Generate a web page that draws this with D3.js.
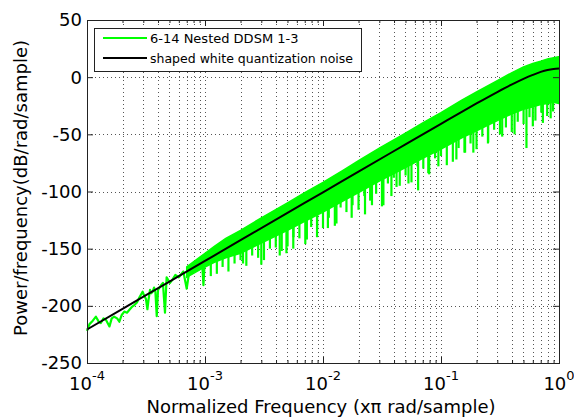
<!DOCTYPE html>
<html>
<head>
<meta charset="utf-8">
<script src="https://cdn.jsdelivr.net/npm/d3@7"></script>
<style>
  body { margin: 0; background: #fff; }
  svg { display: block; }
</style>
</head>
<body>
<div id="chart"></div>
<script>
// tick labels / legend
const decades = [1e-4, 1e-3, 1e-2, 1e-1, 1];
const decadeExp = ['-4', '-3', '-2', '-1', '0'];
const yTicks = [-250, -200, -150, -100, -50, 0, 50];
const legendLabels = ['6-14 Nested DDSM 1-3', 'shaped white quantization noise'];

// black curve: shaped white quantization noise
const shapedF = [1e-4, 2e-4, 5e-4, 1e-3, 2e-3, 5e-3, 1e-2, 2e-2, 5e-2, 0.1, 0.15, 0.2, 0.3, 0.4, 0.5, 0.6, 0.7, 0.8, 0.9, 1];
const shapedDb = [-220.7, -202.6, -178.8, -160.7, -142.6, -118.7, -100.7, -82.6, -58.8, -40.8, -30.3, -23.0, -13.0, -6.3, -1.5, 2.0, 4.6, 6.3, 7.2, 7.6];

// green PSD, low frequency part (thin wiggly trace)
const lowF = [1.00e-4, 1.05e-4, 1.12e-4, 1.19e-4, 1.26e-4, 1.31e-4, 1.38e-4, 1.45e-4, 1.55e-4, 1.62e-4,
  1.70e-4, 1.80e-4, 1.88e-4, 1.97e-4, 2.07e-4, 2.18e-4, 2.28e-4, 2.40e-4, 2.52e-4, 2.65e-4,
  2.77e-4, 2.96e-4, 3.05e-4, 3.16e-4, 3.25e-4, 3.33e-4, 3.42e-4, 3.50e-4, 3.60e-4, 3.70e-4,
  3.80e-4, 3.90e-4, 4.00e-4, 4.24e-4, 4.40e-4, 4.58e-4, 4.73e-4, 5.05e-4, 5.30e-4, 5.60e-4,
  6.00e-4, 6.55e-4, 7.00e-4, 7.40e-4, 7.96e-4, 8.50e-4, 9.00e-4, 9.40e-4, 9.70e-4, 1.00e-3,
  1.10e-3, 1.26e-3];
const lowDb = [-222, -216, -213, -209.5, -214, -215, -211, -212.4, -218, -211,
  -209.5, -211, -213.9, -208, -205, -206, -203.6, -201, -199.3, -197,
  -193, -187.6, -191, -194, -203, -194, -186, -189, -187.6, -184,
  -188, -209, -186, -182, -180, -206, -175, -180, -177, -173,
  -175, -170, -185, -168, -164, -163, -160, -158, -182, -156,
  -157, -150];

// green PSD, dense part: upper and lower edge of the solid band
const bandF = [7e-4, 1e-3, 1.2e-3, 1.5e-3, 2e-3, 3e-3, 5e-3, 7e-3, 1e-2, 1.5e-2, 2e-2, 3e-2, 5e-2, 7e-2, 0.1, 0.15, 0.2, 0.3, 0.4, 0.5, 0.6, 0.7, 0.8, 0.9, 1];
const bandTop = [-166, -154, -148, -141, -134, -123, -110, -101, -92, -81, -73, -62, -49, -40, -31, -20, -13, -3, 4, 9, 12, 14, 16, 17, 18];
const bandBottom = [-175, -166, -162, -158, -154, -145, -134, -126, -118, -108, -101, -91, -79, -71, -63, -53, -47, -38, -32, -28, -26, -24, -23, -22, -23];

// downward spikes hanging below the band
const spikeF = [1.12e-3, 1.26e-3, 1.41e-3, 1.58e-3, 1.78e-3, 2.00e-3, 2.10e-3, 2.24e-3, 2.51e-3, 2.82e-3,
  3.00e-3, 3.16e-3, 3.55e-3, 3.98e-3, 4.30e-3, 4.47e-3, 4.90e-3, 5.01e-3, 5.60e-3, 5.62e-3,
  6.31e-3, 7.08e-3, 7.30e-3, 7.94e-3, 8.90e-3, 8.91e-3, 1.00e-2, 1.10e-2, 1.12e-2, 1.26e-2,
  1.30e-2, 1.41e-2, 1.58e-2, 1.75e-2, 1.78e-2, 2.00e-2, 2.24e-2, 2.27e-2, 2.51e-2, 2.60e-2,
  2.82e-2, 3.16e-2, 3.25e-2, 3.55e-2, 3.80e-2, 3.98e-2, 4.20e-2, 4.47e-2, 5.01e-2, 5.30e-2,
  5.62e-2, 6.31e-2, 6.40e-2, 7.08e-2, 7.80e-2, 7.94e-2, 8.91e-2, 9.50e-2, 0.100, 0.112,
  0.126, 0.135, 0.141, 0.158, 0.160, 0.178, 0.188, 0.200, 0.224, 0.250,
  0.251, 0.282, 0.316, 0.330, 0.355, 0.398, 0.420, 0.447, 0.501, 0.530,
  0.562, 0.600, 0.631, 0.708, 0.730, 0.794, 0.850, 0.891];
const spikeDb = [-174, -172, -166, -170, -163, -160, -163, -165, -156, -158,
  -164, -160, -150, -149, -156, -152, -154, -148, -150, -140,
  -141, -146, -142, -131, -140, -133, -132, -132, -123, -130,
  -128, -114, -118, -123, -112, -116, -104, -120, -108, -112,
  -102, -113, -112, -93, -104, -88, -96, -95, -86, -93,
  -92, -78, -99, -80, -84, -85, -71, -78, -69, -77,
  -74, -72, -62, -66, -66, -58, -66, -63, -52, -58,
  -57, -46, -50, -52, -44, -48, -50, -39, -41, -62,
  -35, -43, -38, -31, -40, -34, -36, -30];

const W = 574, H = 417;
const m = { left: 87, right: 559, top: 20, bottom: 363 };
const font = 'DejaVu Sans, sans-serif';
const green = '#00ff00';

const svg = d3.select('#chart').append('svg')
  .attr('width', W).attr('height', H);

const x = d3.scaleLog().domain([1e-4, 1]).range([m.left, m.right]);
const y = d3.scaleLinear().domain([-250, 50]).range([m.bottom, m.top]);

// minor + major log positions
const xGrid = [];
decades.slice(0, -1).forEach(d => { for (let k = 1; k <= 9; k++) xGrid.push(d * k); });
xGrid.push(1);

// dotted grid
const grid = svg.append('g')
  .attr('stroke', '#555').attr('stroke-width', 1).attr('stroke-dasharray', '1,3');
grid.selectAll('.gx').data(xGrid.slice(1, -1)).join('line')
  .attr('x1', d => Math.round(x(d)) + 0.5).attr('x2', d => Math.round(x(d)) + 0.5)
  .attr('y1', m.top).attr('y2', m.bottom);
grid.selectAll('.gy').data(yTicks.slice(1, -1)).join('line')
  .attr('x1', m.left).attr('x2', m.right)
  .attr('y1', d => Math.round(y(d)) + 0.5).attr('y2', d => Math.round(y(d)) + 0.5);

// green band
const bandData = bandF.map((f, i) => ({ f, t: bandTop[i], b: bandBottom[i] }));
svg.append('path')
  .datum(bandData)
  .attr('fill', green).attr('stroke', green).attr('stroke-width', 1.5)
  .attr('d', d3.area().x(d => x(d.f)).y0(d => y(d.b)).y1(d => y(d.t)));

// spikes
const bottomAt = d3.scaleLinear().domain(bandF.map(Math.log10)).range(bandBottom);
svg.append('g').attr('stroke', green).attr('stroke-width', 2.2)
  .selectAll('line').data(spikeF).join('line')
  .attr('x1', d => x(d)).attr('x2', d => x(d))
  .attr('y1', d => y(bottomAt(Math.log10(d))) - 2)
  .attr('y2', (d, i) => y(spikeDb[i]));

// green low-frequency trace
svg.append('path')
  .datum(lowF.map((f, i) => [f, lowDb[i]]))
  .attr('fill', 'none').attr('stroke', green).attr('stroke-width', 2.2)
  .attr('stroke-linejoin', 'round')
  .attr('d', d3.line().x(d => x(d[0])).y(d => y(d[1])));

// black curve
svg.append('path')
  .datum(shapedF.map((f, i) => [f, shapedDb[i]]))
  .attr('fill', 'none').attr('stroke', '#000').attr('stroke-width', 2)
  .attr('d', d3.line().x(d => x(d[0])).y(d => y(d[1])).curve(d3.curveMonotoneX));

// axes (ticks inside, MATLAB style)
function style(g) {
  g.select('.domain').remove();
  g.selectAll('line').attr('stroke', '#222');
  g.selectAll('text').remove();
}
const minor = xGrid.filter(v => !decades.includes(v));
svg.append('g').attr('transform', `translate(0,${m.bottom})`)
  .call(d3.axisBottom(x).tickValues(decades).tickSize(-6)).call(style);
svg.append('g').attr('transform', `translate(0,${m.bottom})`)
  .call(d3.axisBottom(x).tickValues(minor).tickSize(-3)).call(style);
svg.append('g').attr('transform', `translate(0,${m.top})`)
  .call(d3.axisTop(x).tickValues(decades).tickSize(-6)).call(style);
svg.append('g').attr('transform', `translate(0,${m.top})`)
  .call(d3.axisTop(x).tickValues(minor).tickSize(-3)).call(style);
svg.append('g').attr('transform', `translate(${m.left},0)`)
  .call(d3.axisLeft(y).tickValues(yTicks).tickSize(-6)).call(style);
svg.append('g').attr('transform', `translate(${m.right},0)`)
  .call(d3.axisRight(y).tickValues(yTicks).tickSize(-6)).call(style);

svg.append('rect')
  .attr('x', m.left + 0.5).attr('y', m.top + 0.5)
  .attr('width', m.right - m.left).attr('height', m.bottom - m.top)
  .attr('fill', 'none').attr('stroke', '#222').attr('stroke-width', 1);

// tick labels
svg.append('g').selectAll('text').data(yTicks).join('text')
  .attr('x', m.left - 5).attr('y', d => y(d)).attr('dy', '0.36em')
  .attr('text-anchor', 'end')
  .style('font-family', font).style('font-size', '18px')
  .text(d => d);

const xl = svg.append('g').selectAll('text').data(decades).join('text')
  .attr('x', d => x(d)).attr('y', 390)
  .attr('text-anchor', 'middle')
  .style('font-family', font).style('font-size', '18px');
xl.append('tspan').text('10');
xl.append('tspan').attr('dy', -10).style('font-size', '13px').text((d, i) => decadeExp[i]);

// axis titles
svg.append('text')
  .attr('x', 321).attr('y', 413).attr('text-anchor', 'middle')
  .style('font-family', font).style('font-size', '18px')
  .text('Normalized Frequency (x\u03c0 rad/sample)');
svg.append('text')
  .attr('transform', 'translate(27,188) rotate(-90)').attr('text-anchor', 'middle')
  .style('font-family', font).style('font-size', '18px')
  .text('Power/frequency(dB/rad/sample)');

// legend
const lg = svg.append('g');
lg.append('rect')
  .attr('x', 94.5).attr('y', 28.5).attr('width', 267).attr('height', 43)
  .attr('fill', '#fff').attr('stroke', '#222');
const legendColors = [green, '#000'];
const legendY = [38, 58];
lg.selectAll('line').data(legendLabels).join('line')
  .attr('x1', 103).attr('x2', 147)
  .attr('y1', (d, i) => legendY[i]).attr('y2', (d, i) => legendY[i])
  .attr('stroke', (d, i) => legendColors[i]).attr('stroke-width', 2);
lg.selectAll('text').data(legendLabels).join('text')
  .attr('x', 150).attr('y', (d, i) => legendY[i] + 5)
  .style('font-family', font).style('font-size', (d, i) => i === 0 ? '13px' : '12.5px')
  .text(d => d);
</script>
</body>
</html>
